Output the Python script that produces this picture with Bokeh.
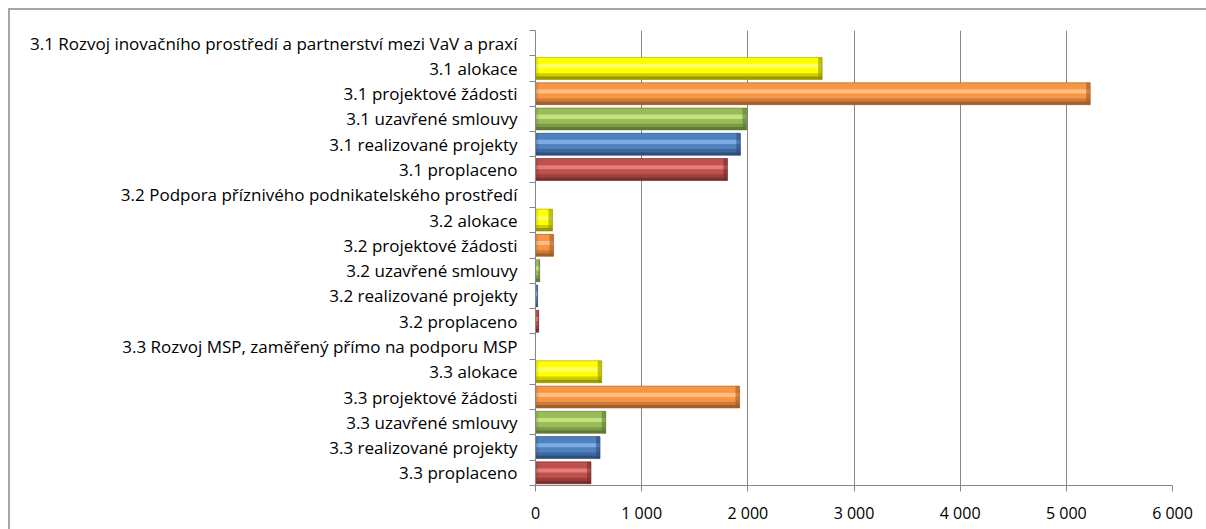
from bokeh.plotting import figure
from bokeh.models import Range1d, FixedTicker, ColumnDataSource
from bokeh.embed import file_html
from bokeh.resources import INLINE

# ---------------- data ----------------
group_labels = ["3.1 Rozvoj inovačního prostředí a partnerství mezi VaV a praxí",
                "3.2 Podpora příznivého podnikatelského prostředí",
                "3.3 Rozvoj MSP, zaměřený přímo na podporu MSP"]
group_codes = ["3.1", "3.2", "3.3"]
series_names = ["alokace", "projektové žádosti", "uzavřené smlouvy",
                "realizované projekty", "proplaceno"]
alokace = [2700, 160, 624]
projektove_zadosti = [5225, 170, 1922]
uzavrene_smlouvy = [1988, 40, 662]
realizovane_projekty = [1930, 20, 608]
proplaceno = [1808, 30, 523]
x_ticks = [0, 1000, 2000, 3000, 4000, 5000, 6000]
x_tick_labels = ["0", "1 000", "2 000", "3 000", "4 000", "5 000", "6 000"]

series_values = [alokace, projektove_zadosti, uzavrene_smlouvy,
                 realizovane_projekty, proplaceno]
# (light, base, dark) per series
series_colors = [("#FFFF8A", "#FFFF00", "#8E8E00"),
                 ("#FFCF95", "#F79646", "#9A5A28"),
                 ("#CFF592", "#9BBB59", "#5A7530"),
                 ("#8FC0F5", "#4F81BD", "#2B4A75"),
                 ("#F5908C", "#C0504D", "#732B29")]

# ---------------- rows ----------------
row_labels = []
for g, gl in enumerate(group_labels):
    row_labels.append(gl)
    for s in series_names:
        row_labels.append(f"{group_codes[g]} {s}")
n_rows = len(row_labels)
centers = list(range(n_rows))
bounds = [i - 0.5 for i in range(n_rows + 1)]

W, H = 1206, 529
p = figure(width=W, height=H, output_backend="svg", toolbar_location=None,
           x_range=Range1d(0, 6000), y_range=Range1d(n_rows - 0.5, -0.5),
           min_border_left=535, min_border_right=34, min_border_top=30,
           min_border_bottom=44)
p.outline_line_color = None
p.background_fill_color = "white"
p.border_fill_color = None
p.styles = {"box-shadow": "inset 8px 8px 0 0 white, inset 10px 10px 0 0 #a6a6a6",
            "background-color": "white"}

FONT = "Open Sans"
# x axis
p.xaxis.ticker = FixedTicker(ticks=x_ticks)
p.xaxis.major_label_overrides = {t: l for t, l in zip(x_ticks, x_tick_labels)}
p.xaxis.axis_line_color = "#868686"
p.xaxis.major_tick_line_color = "#868686"
p.xaxis.major_tick_out = 6
p.xaxis.major_tick_in = 0
p.xaxis.minor_tick_line_color = None
p.xaxis.major_label_text_font = FONT
p.xaxis.major_label_text_font_size = "16px"
p.xaxis.major_label_text_color = "black"
p.xaxis.major_label_standoff = 10
p.xgrid.ticker = FixedTicker(ticks=x_ticks)
p.xgrid.grid_line_color = "#868686"
p.ygrid.grid_line_color = None

# y axis
p.yaxis.ticker = FixedTicker(ticks=centers, minor_ticks=bounds)
p.yaxis.major_label_overrides = {i: l for i, l in enumerate(row_labels)}
p.yaxis.axis_line_color = "#868686"
p.yaxis.major_tick_line_color = None
p.yaxis.major_tick_out = 0
p.yaxis.major_tick_in = 0
p.yaxis.minor_tick_line_color = "#868686"
p.yaxis.minor_tick_out = 6
p.yaxis.minor_tick_in = 0
p.yaxis.major_label_text_font = FONT
p.yaxis.major_label_text_font_size = "17px"
p.yaxis.major_label_text_color = "black"
p.yaxis.major_label_standoff = 12

# ---------------- bars (layered strips for a bevel look) ----------------
BH = 0.87
strips = [(0.00, 0.12, 1), (0.12, 0.30, 1), (0.30, 0.50, 0), (0.50, 0.72, 1),
          (0.72, 0.86, 2), (0.86, 1.00, 2)]
strip_alpha = [0.75, 1.0, 0.7, 1.0, 0.45, 0.9]

for s, (vals, cols) in enumerate(zip(series_values, series_colors)):
    rows = [g * 6 + 1 + s for g in range(len(group_labels))]
    src = ColumnDataSource(dict(y=rows, right=vals))
    p.hbar(y="y", left=0, right="right", height=BH, source=src,
           fill_color=cols[1], line_color=None)
    for (t0, t1, ci), a in zip(strips, strip_alpha):
        mid = (t0 + t1) / 2 - 0.5
        ys = [r + mid * BH for r in rows]
        p.hbar(y=ys, left=0, right=vals, height=(t1 - t0) * BH,
               fill_color=cols[ci], fill_alpha=a, line_color=None)
    caps_l = [max(v - min(38, v * 0.3), 0) for v in vals]
    p.hbar(y=rows, left=caps_l, right=vals, height=BH,
           fill_color=cols[2], fill_alpha=0.55, line_color=None)
    lefts = [min(25, v * 0.2) for v in vals]
    p.hbar(y=rows, left=0, right=lefts, height=BH,
           fill_color=cols[2], fill_alpha=0.25, line_color=None)
    p.hbar(y=rows, left=0, right=vals, height=BH,
           fill_color=None, line_color=cols[2], line_alpha=0.5, line_width=1)

open("out.html", "w").write(file_html(p, INLINE))
